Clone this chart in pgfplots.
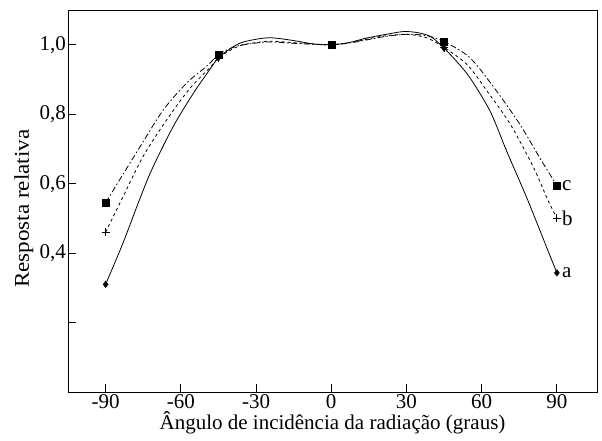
\documentclass[border=0pt]{standalone}
\usepackage{fontspec}
\setmainfont{Liberation Serif}
\usepackage{graphicx}
\usepackage{pgfplots}
\pgfplotsset{compat=1.18}

\pgfplotstableread{
x y
-90 0.310
-83 0.430
-77 0.544
-71.6 0.640
-63 0.765
-55 0.860
-48.5 0.928
-45 0.962
-40 0.990
-35 1.008
-25 1.020
-15 1.012
-7 1.002
0 1.000
7 1.006
14 1.019
22 1.030
29 1.038
35 1.034
40 1.022
45 0.990
50 0.952
55.4 0.904
63.4 0.808
70 0.693
78 0.559
86 0.415
90 0.343
}\dataA

\pgfplotstableread{
x y
-90 0.460
-83 0.563
-75 0.679
-65.6 0.784
-56.3 0.875
-48.5 0.933
-45 0.962
-40 0.985
-35 1.000
-25 1.010
-15 1.006
0 1.000
10 1.010
20 1.024
30 1.030
38 1.020
45 0.992
54.3 0.942
62.2 0.866
71.5 0.770
80.8 0.645
86 0.559
90 0.500
}\dataB

\pgfplotstableread{
x y
-90 0.545
-84.4 0.611
-76.2 0.707
-66.9 0.813
-57.6 0.890
-49.7 0.938
-45 0.971
-40 0.990
-35 1.000
-25 1.008
-15 1.004
0 1.000
10 1.008
20 1.022
30 1.030
38 1.026
45 1.009
55.4 0.962
66 0.866
75.3 0.770
83.2 0.674
90 0.594
}\dataC

\pgfplotstableread{
x ya yb yc
-90 0.310 0.460 0.545
-45 0.962 0.962 0.971
0 1.000 1.000 1.000
45 0.990 0.992 1.009
90 0.343 0.500 0.594
}\marks

\begin{document}
\begin{tikzpicture}[font=\fontsize{21bp}{25bp}\selectfont]
\begin{axis}[
  scale only axis, width=529bp, height=382bp,
  xmin=-105, xmax=106, ymin=0, ymax=1.1,
  axis line style={line width=0.9bp},
  tick align=inside,
  xtick pos=bottom, ytick pos=left,
  major tick length=8bp,
  every tick/.style={line width=0.8bp, black},
  xtick={-90,-60,-30,0,30,60,90},
  xticklabels={-90,-60,-30,0,30,60,90},
  ytick={0.2,0.4,0.6,0.8,1.0},
  yticklabels={,{0,4},{0,6},{0,8},{1,0}},
  xticklabel style={inner sep=2bp},
  yticklabel style={inner sep=2bp},
  xlabel={Ângulo de incidência da radiação (graus)},
  ylabel={\scalebox{1.1}[1]{Resposta relativa}},
  xlabel style={inner sep=0pt, yshift=-1bp},
  ylabel style={inner sep=0pt, at={(ticklabel cs:0.48,4bp)}},
  clip=false,
]
\addplot[black, line width=0.8bp, smooth] table[x=x,y=y] {\dataA};
\addplot[black, line width=0.8bp, smooth, dash pattern=on 3bp off 3bp] table[x=x,y=y] {\dataB};
\addplot[black, line width=0.8bp, smooth, dash pattern=on 6bp off 2.5bp on 1.5bp off 2.5bp] table[x=x,y=y] {\dataC};
\addplot[only marks, mark=diamond*, mark size=3.3bp, black] table[x=x,y=ya] {\marks};
\addplot[only marks, mark=+, mark size=4bp, black, line width=0.8bp] table[x=x,y=yb] {\marks};
\addplot[only marks, mark=square*, mark size=3.5bp, black] table[x=x,y=yc] {\marks};
\node[anchor=west, inner sep=0pt] at (axis cs:92,0.343) {a};
\node[anchor=west, inner sep=0pt] at (axis cs:92,0.500) {b};
\node[anchor=west, inner sep=0pt] at (axis cs:92,0.594) {c};
\end{axis}
\pgfresetboundingbox
\path[use as bounding box] ([shift={(-68bp,-49bp)}]current axis.south west) rectangle ([shift={(5bp,10bp)}]current axis.north east);
\end{tikzpicture}
\end{document}
